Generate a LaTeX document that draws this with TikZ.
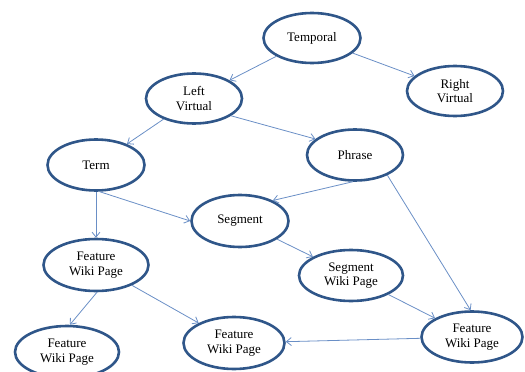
\documentclass[tikz,border=0pt]{standalone}
\usepackage{fontspec}
\setmainfont{Liberation Serif}
\usetikzlibrary{shapes.geometric,arrows.meta}
\definecolor{ringblue}{HTML}{2F5689}
\definecolor{edgeblue}{HTML}{6A8FC6}
\tikzset{
  el/.style={ellipse, draw=ringblue, line width=2.6pt, fill=white, inner sep=0pt,
    align=center, font=\fontsize{13}{14.8}\selectfont, text=black},
  edge/.style={draw=edgeblue, line width=0.8pt, -{Straight Barb[length=5pt,width=8pt]}}
}
\begin{document}
\begin{tikzpicture}[x=1pt,y=-1pt]
\useasboundingbox (0,0) rectangle (525,372);
\node[el, minimum width=97pt, minimum height=50pt] (temporal) at (312,38) {Temporal};
\node[el, minimum width=96pt, minimum height=50pt] (rv) at (455,91) {Right\\Virtual};
\node[el, minimum width=96pt, minimum height=50pt] (lv) at (194,98.5) {Left\\Virtual};
\node[el, minimum width=97pt, minimum height=51pt] (term) at (96,165) {Term};
\node[el, minimum width=96pt, minimum height=51pt] (phrase) at (355,155) {Phrase};
\node[el, minimum width=97pt, minimum height=52pt] (segment) at (240,221) {Segment};
\node[el, minimum width=104pt, minimum height=51pt] (swp) at (351,275.5) {Segment\\Wiki Page};
\node[el, minimum width=105pt, minimum height=52pt] (fwpl) at (96,265) {Feature\\Wiki Page};
\node[el, minimum width=104pt, minimum height=52pt] (fwpbl) at (67,352) {Feature\\Wiki Page};
\node[el, minimum width=101pt, minimum height=52pt] (fwpbm) at (234,343) {Feature\\Wiki Page};
\node[el, minimum width=101pt, minimum height=51pt] (fwpbr) at (472,337) {Feature\\Wiki Page};

\draw[edge] (temporal) -- (lv);
\draw[edge] (temporal) -- (rv);
\draw[edge] (lv) -- (term);
\draw[edge] (lv.-25) -- (phrase.158);
\draw[edge] (phrase.265) -- (segment.32);
\draw[edge] (phrase.-32) -- (fwpbr.93);
\draw[edge] (term.-82) -- (segment.180);
\draw[edge] (term) -- (fwpl);
\draw[edge] (segment) -- (swp);
\draw[edge] (swp) -- (fwpbr);
\draw[edge] (fwpl.-88) -- (fwpbl.84);
\draw[edge] (fwpl) -- (fwpbm);
\draw[edge] (fwpbr) -- (fwpbm);
\end{tikzpicture}
\end{document}
